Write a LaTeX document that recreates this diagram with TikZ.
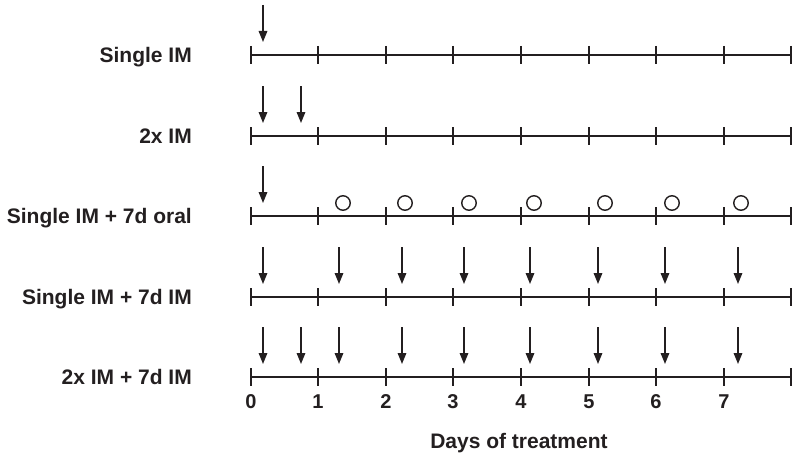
\documentclass[tikz,border=0pt]{standalone}
\usepackage{fontspec}
\setmainfont{Liberation Sans}
\usetikzlibrary{arrows.meta}
\definecolor{ink}{HTML}{231F20}
\begin{document}
\begin{tikzpicture}[x=1pt,y=-1pt,
  axisline/.style={draw=ink,line width=1.4pt},
  tickline/.style={draw=ink,line width=1.5pt},
  dose/.style={draw=ink,line width=1.6pt,-{Triangle[length=11pt,width=8.5pt]}},
  oral/.style={circle,draw=ink,line width=1.4pt,minimum size=14.5pt,inner sep=0pt},
  rowlabel/.style={anchor=base east,text=ink,font=\fontsize{21}{25}\selectfont\bfseries,inner sep=0pt},
  ticklabel/.style={anchor=base,text=ink,font=\fontsize{20}{24}\selectfont\bfseries,inner sep=0pt}]
\useasboundingbox (0,0) rectangle (800,460);

% row labels
\node[rowlabel] (lab1) at (192,62.5) {Single IM};
\node[rowlabel] (lab2) at (192,143.5) {2x IM};
\node[rowlabel] (lab3) at (192,223.5) {Single IM + 7d oral};
\node[rowlabel] (lab4) at (192,304.5) {Single IM + 7d IM};
\node[rowlabel] (lab5) at (192,384.5) {2x IM + 7d IM};

% axes with ticks
\foreach \r/\y in {1/55,2/136,3/216,4/297,5/377}{
  \coordinate (s\r) at (251,\y);
  \coordinate (e\r) at (791,\y);
  \draw[axisline] (s\r) -- (e\r);
  \foreach \tx in {251,318,386,453,521,589,656,724,791}{
    \draw[tickline] (\tx,\y-9) -- (\tx,\y+9);
  }
}

% injections (arrows)
\foreach \r/\y/\xs in {1/55/{263},2/136/{263,301},3/216/{263},
    4/297/{263,339,402,464,530,598,665,738},
    5/377/{263,301,339,402,464,530,598,665,738}}{
  \foreach \x [count=\i] in \xs {
    \coordinate (a\r-\i) at (\x,\y-50);
    \coordinate (b\r-\i) at (\x,\y-13);
    \draw[dose] (a\r-\i) -- (b\r-\i);
  }
}

% oral doses (circles)
\foreach \x [count=\i] in {343,405,469,534,605,672,741}{
  \node[oral] (o\i) at (\x,203) {};
}

% tick labels
\foreach \tx [count=\k from 0] in {251,318,386,453,521,589,656,724}{
  \node[ticklabel] (t\k) at (\tx,408) {\k};
}

\node[anchor=base,text=ink,font=\fontsize{21}{25}\selectfont\bfseries,inner sep=0pt] (xlab) at (519,448) {Days of treatment};
\end{tikzpicture}
\end{document}
